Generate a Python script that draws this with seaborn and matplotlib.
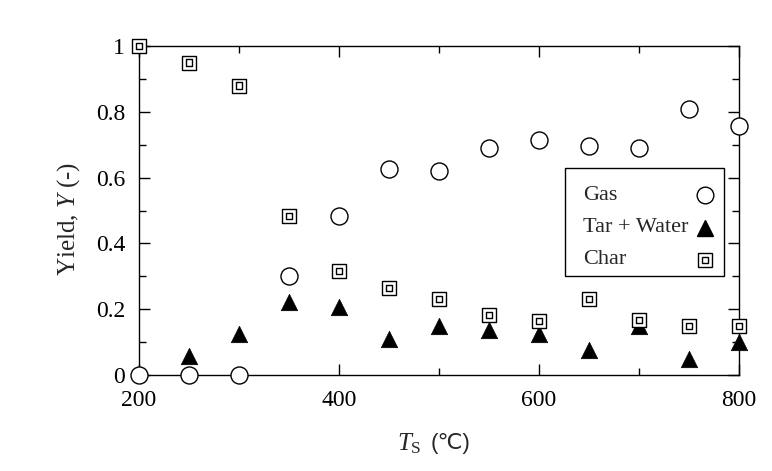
import matplotlib
matplotlib.use("Agg")
import matplotlib.pyplot as plt
from matplotlib.patches import Rectangle
from matplotlib.ticker import MultipleLocator
import seaborn as sns
import pandas as pd

temps = [200, 250, 300, 350, 400, 450, 500, 550, 600, 650, 700, 750, 800]
gas = [0.0, 0.0, 0.0, 0.30, 0.483, 0.626, 0.62, 0.69, 0.714, 0.696, 0.69, 0.81, 0.757]
tar_temps = [250, 300, 350, 400, 450, 500, 550, 600, 650, 700, 750, 800]
tar_water = [0.058, 0.125, 0.222, 0.207, 0.11, 0.15, 0.137, 0.125, 0.076, 0.15, 0.049, 0.10]
char = [1.0, 0.95, 0.88, 0.483, 0.316, 0.265, 0.231, 0.182, 0.164, 0.231, 0.167, 0.149, 0.149]
labels = ["Gas", "Tar + Water", "Char"]

sns.set_style("ticks")
plt.rcParams["font.family"] = ["Liberation Serif", "DejaVu Sans"]
plt.rcParams["mathtext.fontset"] = "custom"
plt.rcParams["mathtext.rm"] = "Liberation Serif"
plt.rcParams["mathtext.it"] = "Liberation Serif:italic"

df_gc = pd.DataFrame({"T": temps, "gas": gas, "char": char})
df_t = pd.DataFrame({"T": tar_temps, "tar": tar_water})

fig = plt.figure(figsize=(7.72, 4.71), dpi=100)
ax = fig.add_axes([0.180, 0.204, 0.777, 0.698])

kw = dict(edgecolor="black", linewidth=1.0, clip_on=False, zorder=3)
sns.scatterplot(data=df_gc, x="T", y="gas", marker="o", s=150, facecolor="white", ax=ax, **kw)
sns.scatterplot(data=df_t, x="T", y="tar", marker="^", s=140, color="black", ax=ax,
                edgecolor="black", linewidth=0.5, clip_on=False, zorder=3)
sns.scatterplot(data=df_gc, x="T", y="char", marker="s", s=110, facecolor="white", ax=ax, **kw)
sns.scatterplot(data=df_gc, x="T", y="char", marker="s", s=22, facecolor="none", ax=ax, **kw)

ax.set_xlim(200, 800)
ax.set_ylim(0, 1)
ax.xaxis.set_major_locator(MultipleLocator(200))
ax.xaxis.set_minor_locator(MultipleLocator(100))
ax.yaxis.set_minor_locator(MultipleLocator(0.1))
ax.set_yticks([0, 0.2, 0.4, 0.6, 0.8, 1.0])
ax.set_yticklabels(["0", "0.2", "0.4", "0.6", "0.8", "1"])
ax.tick_params(which="both", direction="in", top=True, right=True, width=1.0, colors="black",
               labelsize=17)
ax.tick_params(which="major", length=8)
ax.tick_params(which="minor", length=5)
ax.tick_params(axis="x", pad=11)
ax.tick_params(axis="y", pad=10)
for sp in ax.spines.values():
    sp.set_visible(True)
    sp.set_color("black")
    sp.set_linewidth(1.0)

ax.set_ylabel(r"Yield, $Y$ (-)", fontsize=18, labelpad=10, y=0.475)
ax.set_xlabel("")
fig.text(0.546, 0.058, r"$T_{\rm S}$", ha="right", va="center", fontsize=18)
fig.text(0.558, 0.058, "(℃)", ha="left", va="center", fontsize=16,
         family=["Liberation Sans", "DejaVu Sans"])

# legend box (manual, labels left, markers right)
ax.add_patch(Rectangle((0.71, 0.30), 0.265, 0.328, transform=ax.transAxes, facecolor="white",
                       edgecolor="black", linewidth=1.0, zorder=4))
rows_y = [0.547, 0.447, 0.35]
for lab, yy in zip(labels, rows_y):
    ax.text(0.74, yy, lab, transform=ax.transAxes, ha="left", va="center", fontsize=16, zorder=5)
mx = 0.943
ax.plot([mx], [rows_y[0]], transform=ax.transAxes, marker="o", markersize=12, linestyle="none",
        markerfacecolor="white", markeredgecolor="black", zorder=5)
ax.plot([mx], [rows_y[1]], transform=ax.transAxes, marker="^", markersize=12, linestyle="none",
        markerfacecolor="black", markeredgecolor="black", zorder=5)
ax.plot([mx], [rows_y[2]], transform=ax.transAxes, marker="s", markersize=10, linestyle="none",
        markerfacecolor="white", markeredgecolor="black", zorder=5)
ax.plot([mx], [rows_y[2]], transform=ax.transAxes, marker="s", markersize=4.5, linestyle="none",
        markerfacecolor="none", markeredgecolor="black", zorder=6)

fig.savefig("out.png", dpi=100)
